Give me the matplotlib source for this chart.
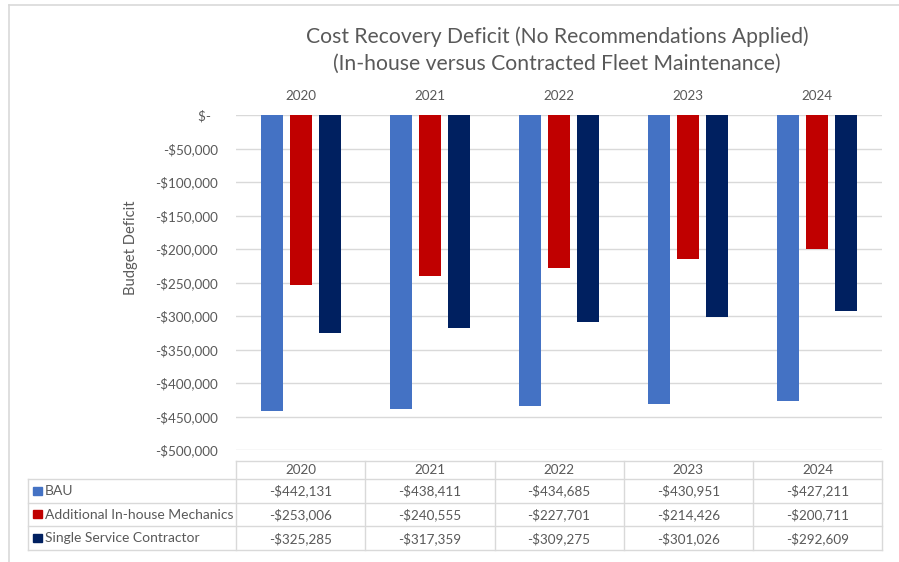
import matplotlib
matplotlib.use('Agg')
import matplotlib.pyplot as plt
import numpy as np

years = ['2020', '2021', '2022', '2023', '2024']
series_names = ['BAU', 'Additional In-house Mechanics', 'Single Service Contractor']
bau = [-442131, -438411, -434685, -430951, -427211]
inhouse = [-253006, -240555, -227701, -214426, -200711]
contractor = [-325285, -317359, -309275, -301026, -292609]
yticks = list(range(0, -500001, -50000))

colors = ['#4472C4', '#C00000', '#002060']
series = [bau, inhouse, contractor]

plt.rcParams['font.family'] = ['Lato', 'DejaVu Sans']
TXT = '#595959'
GRID = '#D9D9D9'

W, H = 899, 562
fig = plt.figure(figsize=(W / 100, H / 100), dpi=100)


def fx(x):
    return x / W


def fy(y):
    return 1 - y / H


ax = fig.add_axes([fx(236), fy(450), (882 - 236) / W, (450 - 115) / H])
x = np.arange(len(years))
offs = [-0.225, 0.0, 0.225]
for i, (vals, c) in enumerate(zip(series, colors)):
    ax.bar(x + offs[i], vals, width=0.17, color=c, zorder=3, label=series_names[i])
ax.set_xlim(-0.5, len(years) - 0.5)
ax.set_ylim(-500000, 0)
ax.set_yticks(yticks)


def fmt(v):
    if v == 0:
        return '$-  '
    return '-${:,}'.format(abs(v))


ax.set_yticklabels([fmt(v) for v in yticks])
ax.xaxis.tick_top()
ax.set_xticks(x)
ax.set_xticklabels(years)
ax.tick_params(axis='both', length=0, colors=TXT, labelsize=9.7)
ax.tick_params(axis='y', pad=13)
ax.tick_params(axis='x', pad=9)
ax.grid(axis='y', color=GRID, lw=1, zorder=0)
ax.set_axisbelow(True)
for s in ax.spines.values():
    s.set_visible(False)

fig.text(fx(131), fy(248), 'Budget Deficit', rotation=90, ha='center', va='center',
         color=TXT, fontsize=10.6)

fig.text(fx(557), fy(37), 'Cost Recovery Deficit (No Recommendations Applied)',
         ha='center', va='center', color=TXT, fontsize=15.2)
fig.text(fx(557), fy(64), '(In-house versus Contracted Fleet Maintenance)',
         ha='center', va='center', color=TXT, fontsize=15.2)

# overlay axes for table and border
tax = fig.add_axes([0, 0, 1, 1])
tax.set_xlim(0, W)
tax.set_ylim(H, 0)
tax.axis('off')
tax.patch.set_alpha(0)

# chart border (top, left)
tax.plot([9, W], [5, 5], color=GRID, lw=1.2)
tax.plot([9, 9], [5, H], color=GRID, lw=1.2)

col_x = [236, 365, 494.5, 623.5, 753, 882]
row_y = [460.5, 478.5, 502.5, 526, 549.5]
left_x = 27.5

tax.plot([col_x[0], col_x[-1]], [row_y[0], row_y[0]], color=GRID, lw=1)
for yy in row_y[1:]:
    tax.plot([left_x, col_x[-1]], [yy, yy], color=GRID, lw=1)
for xx in col_x:
    tax.plot([xx, xx], [row_y[0], row_y[-1]], color=GRID, lw=1)
tax.plot([left_x, left_x], [row_y[1], row_y[-1]], color=GRID, lw=1)

for j, yr in enumerate(years):
    cx = (col_x[j] + col_x[j + 1]) / 2
    tax.text(cx, (row_y[0] + row_y[1]) / 2 + 0.5, yr, ha='center', va='center',
             color=TXT, fontsize=9.7)

for i, (name, vals, c) in enumerate(zip(series_names, series, colors)):
    cy = (row_y[i + 1] + row_y[i + 2]) / 2
    tax.add_patch(plt.Rectangle((33, cy - 4), 8.5, 8, color=c))
    tax.text(45, cy + 0.5, name, ha='left', va='center', color=TXT, fontsize=10)
    for j, v in enumerate(vals):
        cx = (col_x[j] + col_x[j + 1]) / 2
        tax.text(cx, cy + 0.5, '-${:,}'.format(abs(v)), ha='center', va='center',
                 color=TXT, fontsize=9.7)

fig.savefig('out.png', dpi=100, facecolor='white')
